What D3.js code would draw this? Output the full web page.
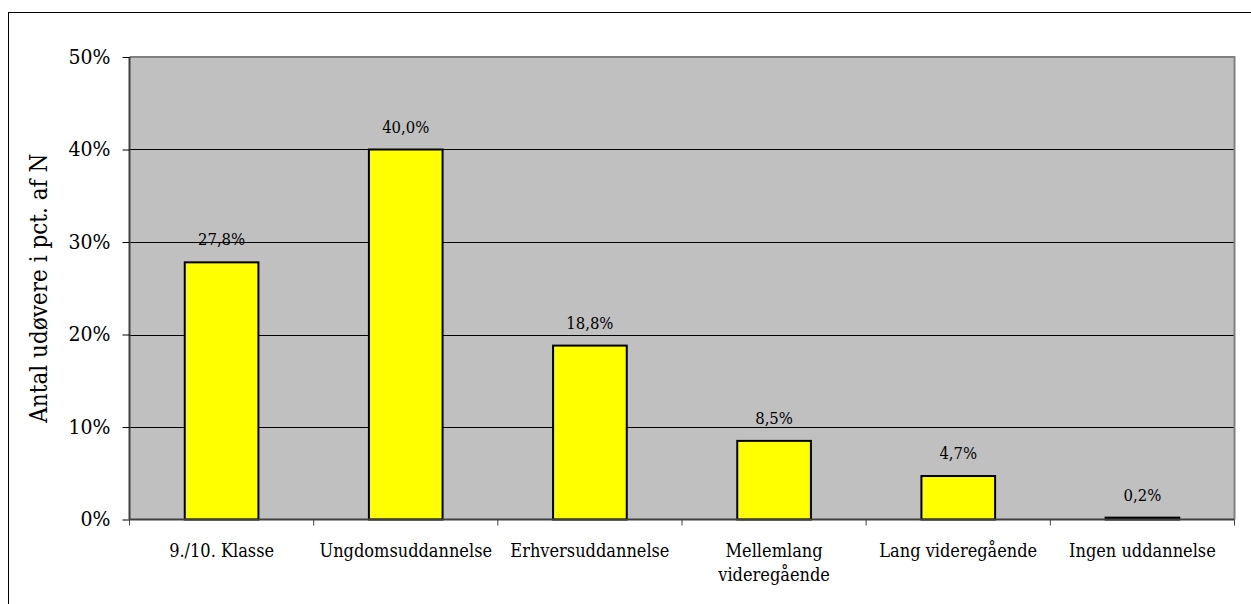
<!DOCTYPE html>
<html>
<head>
<meta charset="utf-8">
<script src="https://cdn.jsdelivr.net/npm/d3@7"></script>
<style>
  body { margin: 0; background: #fff; }
  text { font-family: "DejaVu Serif Condensed", "DejaVu Serif", serif; font-stretch: condensed; fill: #000; }
</style>
</head>
<body>
<div id="chart"></div>
<script>
// Données
const categories = ["9./10. Klasse", "Ungdomsuddannelse", "Erhversuddannelse",
  "Mellemlang videregående", "Lang videregående", "Ingen uddannelse"];
const values = [27.8, 40.0, 18.8, 8.5, 4.7, 0.2];
const yTicks = [0, 10, 20, 30, 40, 50];
const yTitle = "Antal udøvere i pct. af N";

// taille du svg
const W = 1251, H = 604;
const margin = { top: 57, left: 129.5, right: 16.5, bottom: 84.5 };
const width = W - margin.left - margin.right,
  height = H - margin.top - margin.bottom;

const svg = d3.select("#chart").append("svg")
  .attr("width", W)
  .attr("height", H);

// cadre extérieur
svg.append("rect")
  .attr("x", 8.5).attr("y", 12.5)
  .attr("width", W + 20).attr("height", H + 20)
  .attr("fill", "none")
  .attr("stroke", "#000")
  .attr("stroke-width", 1);

const g = svg.append("g")
  .attr("transform", "translate(" + margin.left + "," + margin.top + ")");

const x = d3.scaleBand().domain(categories).range([0, width]).paddingInner(0.6).paddingOuter(0.3);
const xBound = d3.scaleBand().domain(categories).range([0, width]);
const y = d3.scaleLinear().domain([0, 50]).range([height, 0]);

// fond gris
g.append("rect")
  .attr("width", width).attr("height", height)
  .attr("fill", "#c0c0c0");

// lignes de grille
g.selectAll(".grid")
  .data(yTicks.filter(d => d > 0 && d < 50))
  .enter()
  .append("line")
  .attr("x1", 0).attr("x2", width)
  .attr("y1", d => Math.round(y(d)) + 0.5)
  .attr("y2", d => Math.round(y(d)) + 0.5)
  .attr("stroke", "#000")
  .attr("stroke-width", 1);

// bordure haut / droite
g.append("path")
  .attr("d", "M0,0H" + width + "V" + height)
  .attr("fill", "none")
  .attr("stroke", "#808080")
  .attr("stroke-width", 2);

// barres
g.selectAll(".bar")
  .data(values)
  .enter()
  .append("rect")
  .attr("x", (d, i) => x(categories[i]))
  .attr("y", d => y(d))
  .attr("width", x.bandwidth())
  .attr("height", d => height - y(d))
  .attr("fill", "#ffff00")
  .attr("stroke", "#000")
  .attr("stroke-width", 2);

// étiquettes de valeurs
g.selectAll(".lbl")
  .data(values)
  .enter()
  .append("text")
  .attr("x", (d, i) => x(categories[i]) + x.bandwidth() / 2)
  .attr("y", d => y(d) - 17)
  .attr("text-anchor", "middle")
  .style("font-size", "16.5px")
  .text(d => d.toFixed(1).replace(".", ",") + "%");

// axe y
const yAxis = g.append("g").call(
  d3.axisLeft(y).tickValues(yTicks).tickSize(7).tickPadding(12).tickFormat(d => d + "%"));
yAxis.select(".domain").attr("stroke", "#404040").attr("stroke-width", 2).attr("d", "M0," + height + "V0");
yAxis.selectAll(".tick line").attr("stroke", "#000");
yAxis.selectAll(".tick text").style("font-size", "21px").attr("dy", "0.3em");

// axe x
const xAxisG = g.append("g").attr("transform", "translate(0," + height + ")");
xAxisG.append("line")
  .attr("x1", 0).attr("x2", width)
  .attr("stroke", "#404040").attr("stroke-width", 2);
xAxisG.selectAll(".xt")
  .data(categories.concat([null]))
  .enter()
  .append("line")
  .attr("x1", (d, i) => i < categories.length ? xBound(d) : width)
  .attr("x2", (d, i) => i < categories.length ? xBound(d) : width)
  .attr("y1", 0).attr("y2", 6)
  .attr("stroke", "#404040");

const catText = xAxisG.selectAll(".cat")
  .data(categories)
  .enter()
  .append("text")
  .attr("x", d => xBound(d) + xBound.bandwidth() / 2)
  .attr("y", 37)
  .attr("text-anchor", "middle")
  .style("font-size", "18px")
  .text(d => d);

// retour à la ligne si trop long
catText.each(function (d) {
  const t = d3.select(this);
  if (this.getComputedTextLength() > xBound.bandwidth() + 8) {
    const words = d.split(" ");
    t.text(null);
    t.append("tspan").attr("x", t.attr("x")).text(words[0]);
    t.append("tspan").attr("x", t.attr("x")).attr("dy", 24.5).text(words.slice(1).join(" "));
  }
});

// titre axe y
svg.append("text")
  .attr("transform", "translate(47," + (margin.top + height / 2) + ") rotate(-90)")
  .attr("text-anchor", "middle")
  .style("font-size", "24px")
  .text(yTitle);
</script>
</body>
</html>
